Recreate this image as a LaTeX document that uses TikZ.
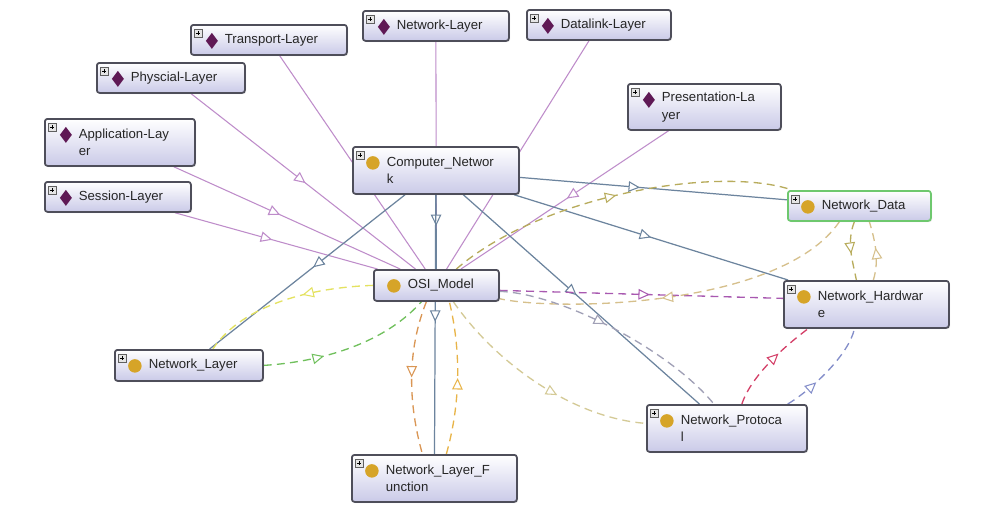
\documentclass[tikz,border=0pt]{standalone}
\usepackage{fontspec}
\setmainfont{Liberation Sans}
\usetikzlibrary{arrows.meta,decorations.markings,backgrounds,shadows}

\definecolor{lavfill}{RGB}{202,202,232}
\definecolor{boxline}{RGB}{78,78,90}
\definecolor{ndgreen}{RGB}{110,200,110}
\definecolor{indivc}{RGB}{95,25,85}
\definecolor{classc}{RGB}{214,164,40}
\definecolor{lilac}{RGB}{190,140,202}
\definecolor{steel}{RGB}{108,132,158}
\definecolor{yellowd}{RGB}{228,226,96}
\definecolor{greend}{RGB}{112,192,92}
\definecolor{oranged}{RGB}{218,150,84}
\definecolor{amberd}{RGB}{232,180,72}
\definecolor{magentad}{RGB}{168,88,176}
\definecolor{olived}{RGB}{184,172,92}
\definecolor{tand}{RGB}{214,192,140}
\definecolor{paled}{RGB}{212,202,150}
\definecolor{greyd}{RGB}{160,160,182}
\definecolor{redd}{RGB}{212,64,104}
\definecolor{bluegreyd}{RGB}{132,142,202}

\begin{document}
\begin{tikzpicture}[
x=0.02cm,y=-0.02cm,
font=\fontsize{7.5}{10}\selectfont,
box/.style={draw=boxline,line width=1pt,rounded corners=1.5pt,top color=white,bottom color=lavfill,
  anchor=north west,align=left,inner xsep=0.04cm,inner ysep=0pt,text=black!85,
  execute at begin node={\leftskip=0.64cm},
  drop shadow={opacity=0.18,shadow xshift=0.7pt,shadow yshift=-0.7pt}},
wh/.style 2 args={minimum width=#1*0.02cm,minimum height=#2*0.02cm,text width=#1*0.02cm-0.08cm},
plusbox/.style={sharp corners,fill=gray!20,draw=gray!75!black,line width=0.3pt},
indiv/.style={box,path picture={
  \coordinate (pp) at (path picture bounding box.north west);
  \draw[plusbox] ([shift={(3,4)}]pp) rectangle ([shift={(11,12)}]pp);
  \draw[sharp corners,line width=0.4pt,black] ([shift={(5,8)}]pp) -- ([shift={(9,8)}]pp) ([shift={(7,6)}]pp) -- ([shift={(7,10)}]pp);
  \fill[sharp corners,indivc] ([shift={(21,8)}]pp) -- ([shift={(27,16)}]pp) -- ([shift={(21,24)}]pp) -- ([shift={(15,16)}]pp) -- cycle;}},
cls/.style={box,path picture={
  \coordinate (pp) at (path picture bounding box.north west);
  \draw[plusbox] ([shift={(3,4)}]pp) rectangle ([shift={(11,12)}]pp);
  \draw[sharp corners,line width=0.4pt,black] ([shift={(5,8)}]pp) -- ([shift={(9,8)}]pp) ([shift={(7,6)}]pp) -- ([shift={(7,10)}]pp);
  \fill[classc] ([shift={(20,16)}]pp) circle[radius=0.135cm];}},
clsbare/.style={box,path picture={
  \fill[classc] ([shift={(20,16)}]path picture bounding box.north west) circle[radius=0.135cm];}},
isa/.style={draw=lilac,line width=0.6pt},
sub/.style={draw=steel,line width=0.7pt},
rel/.style={dash pattern=on 4.5pt off 3pt,line width=0.75pt},
tipat/.style={postaction={decorate},decoration={markings,
  mark=at position #1 with {\arrow{Triangle[fill=white,length=6.5pt,width=6pt,line width=0.6pt]}}}}
]
% individuals
\node[indiv,wh={156}{30}] (transport) at (190,24) {Transport-Layer};
\node[indiv,wh={148}{30}] (physcial) at (96,62) {Physcial-Layer};
\node[indiv,wh={150}{47}] (application) at (44,118) {Application-Lay\\er};
\node[indiv,wh={146}{30}] (session) at (44,181) {Session-Layer};
\node[indiv,wh={146}{30}] (netlayer) at (362,10) {Network-Layer};
\node[indiv,wh={144}{30}] (datalink) at (526,9) {Datalink-Layer};
\node[indiv,wh={153}{46}] (presentation) at (627,83) {Presentation-La\\yer};
% classes
\node[cls,wh={166}{47}] (compnet) at (352,146) {Computer\_Networ\\k};
\node[cls,wh={143}{30},draw=ndgreen] (netdata) at (787,190) {Network\_Data};
\node[clsbare,wh={125}{31}] (osi) at (373,269) {OSI\_Model};
\node[cls,wh={165}{47}] (nethw) at (783,280) {Network\_Hardwar\\e};
\node[cls,wh={148}{31}] (netl) at (114,349) {Network\_Layer};
\node[cls,wh={160}{47}] (netproto) at (646,404) {Network\_Protoca\\l};
\node[cls,wh={165}{47}] (nlfunc) at (351,454) {Network\_Layer\_F\\unction};

\begin{scope}[on background layer]
\fill[white] (0,0) rectangle (992,511);
% instance of OSI_Model
\draw[isa,tipat=0.6] (transport) -- (osi);
\draw[isa,tipat=0.51] (physcial) -- (osi);
\draw[isa,tipat=0.47] (application) -- (osi);
\draw[isa,tipat=0.48] (session) -- (osi);
\draw[isa,tipat=0.55] (netlayer) -- (osi);
\draw[isa,tipat=0.57] (datalink) -- (osi);
\draw[isa,tipat=0.49] (presentation) -- (osi);
% subclasses
\draw[sub,tipat=0.45] (compnet) -- (netdata);
\draw[sub,tipat=0.5] (compnet) -- (nethw);
\draw[sub,tipat=0.42] (compnet) -- (osi);
\draw[sub,tipat=0.47] (compnet) -- (netl);
\draw[sub,tipat=0.48] (compnet) -- (netproto);
\draw[sub,tipat=0.49] (compnet) -- (nlfunc);
% object properties
\draw[rel,draw=yellowd,tipat=0.4] (osi.west) .. controls +(-60,2) and +(30,-45) .. ([shift={(24,0)}]netl.north);
\draw[rel,draw=greend,tipat=0.35] (netl.east) .. controls +(50,-3) and +(-40,45) .. ([shift={(-15,0)}]osi.south);
\draw[rel,draw=oranged,tipat=0.5] ([shift={(-10,0)}]osi.south) .. controls +(-20,50) and +(-14,-50) .. ([shift={(-12,0)}]nlfunc.north);
\draw[rel,draw=amberd,tipat=0.5] ([shift={(12,0)}]nlfunc.north) .. controls +(14,-50) and +(12,50) .. ([shift={(13,0)}]osi.south);
\draw[rel,draw=magentad,tipat=0.53] ([shift={(0,5)}]osi.east) -- ([shift={(0,-6)}]nethw.west);
\draw[rel,draw=olived,tipat=0.5] ([shift={(20,0)}]osi.north) .. controls +(85,-74) and +(-72,-25) .. ([shift={(5,0)}]netdata.north west);
\draw[rel,draw=tand,tipat=0.55] ([shift={(-20,0)}]netdata.south) .. controls +(-58,85) and +(60,13) .. ([shift={(0,-3)}]osi.south east);
\draw[rel,draw=olived,tipat=0.55] ([shift={(-5,0)}]netdata.south) .. controls +(-8,20) and +(-4,-20) .. ([shift={(-10,0)}]nethw.north);
\draw[rel,draw=tand,tipat=0.55] ([shift={(7,0)}]nethw.north) .. controls +(6,-20) and +(6,20) .. ([shift={(10,0)}]netdata.south);
\draw[rel,draw=redd,tipat=0.62] ([shift={(15,0)}]netproto.north) .. controls +(10,-30) and +(-20,15) .. ([shift={(25,0)}]nethw.south west);
\draw[rel,draw=bluegreyd,tipat=0.35] ([shift={(-20,0)}]netproto.north east) .. controls +(25,-15) and +(-5,25) .. ([shift={(-12,0)}]nethw.south);
\draw[rel,draw=paled,tipat=0.6] ([shift={(17,0)}]osi.south) .. controls +(45,65) and +(-70,-5) .. ([shift={(0,-5)}]netproto.west);
\draw[rel,draw=greyd,tipat=0.45] ([shift={(0,6)}]osi.east) .. controls +(60,2) and +(-45,-55) .. ([shift={(-13,0)}]netproto.north);
\end{scope}
\useasboundingbox (0,0) rectangle (992,511);
\end{tikzpicture}
\end{document}
